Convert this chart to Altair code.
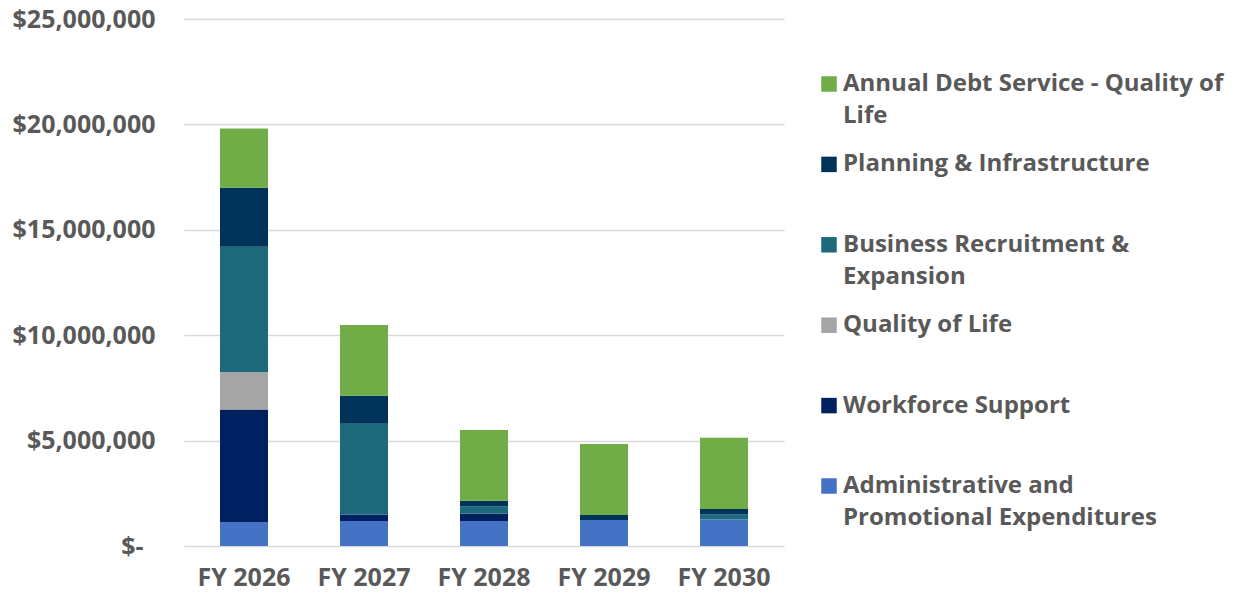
import altair as alt
import pandas as pd

years = ["FY 2026", "FY 2027", "FY 2028", "FY 2029", "FY 2030"]

series = [
    "Administrative and Promotional Expenditures",
    "Workforce Support",
    "Quality of Life",
    "Business Recruitment & Expansion",
    "Planning & Infrastructure",
    "Annual Debt Service - Quality of Life",
]

admin = [1140000, 1190000, 1190000, 1230000, 1260000]
workforce = [5340000, 310000, 340000, 0, 0]
quality = [1770000, 0, 0, 0, 0]
business = [5950000, 4300000, 350000, 0, 240000]
planning = [2800000, 1330000, 270000, 240000, 260000]
debt = [2810000, 3350000, 3350000, 3370000, 3380000]

colors = ["#4472C4", "#002060", "#A5A5A5", "#1D6A7C", "#003359", "#70AD47"]

legend_labels = [
    "Administrative and|Promotional Expenditures",
    "Workforce Support",
    "Quality of Life",
    "Business Recruitment &|Expansion",
    "Planning & Infrastructure",
    "Annual Debt Service - Quality of|Life",
]

y_ticks = [0, 5000000, 10000000, 15000000, 20000000, 25000000]

all_values = [admin, workforce, quality, business, planning, debt]
rows = []
for i, (s, vals) in enumerate(zip(series, all_values)):
    for yr, v in zip(years, vals):
        if v > 0:
            rows.append({"year": yr, "series": s, "value": v, "stack": i})
df = pd.DataFrame(rows)

legend_order = list(reversed(series))
leg_df = pd.DataFrame({"series": series, "label": legend_labels})

FONT = "Open Sans"
GREY = "#595959"
color_scale = alt.Scale(domain=series, range=colors)

bars = alt.Chart(df).mark_bar().encode(
    x=alt.X(
        "year:N", sort=years, title=None,
        scale=alt.Scale(paddingInner=0.6, paddingOuter=0.3),
        axis=alt.Axis(labelAngle=0, labelFont=FONT, labelFontSize=25, labelFontWeight="bold",
                      labelColor=GREY, labelPadding=19, ticks=False, domain=False, grid=False),
    ),
    y=alt.Y(
        "value:Q", stack="zero", title=None,
        scale=alt.Scale(domain=[0, 25000000], nice=False),
        axis=alt.Axis(values=y_ticks,
                      labelExpr="datum.value == 0 ? '$-' : '$' + format(datum.value, ',')",
                      labelFont=FONT, labelFontSize=25, labelFontWeight="bold", labelColor=GREY,
                      labelPadding={"condition": {"test": "datum.value == 0", "value": 41}, "value": 29},
                      ticks=False, domain=False, grid=True,
                      gridColor="#D9D9D9", gridWidth=1.5),
    ),
    color=alt.Color("series:N", scale=color_scale, legend=None),
    order=alt.Order("stack:Q", sort="ascending"),
)

leg_base = alt.Chart(leg_df).encode(
    y=alt.Y("series:N", sort=legend_order, axis=None, title=None,
            scale=alt.Scale(range=[65, 467], padding=0)),
)
leg_sq = leg_base.mark_square(size=240, opacity=1).encode(
    x=alt.value(645),
    color=alt.Color("series:N", scale=color_scale, legend=None),
)
leg_txt = leg_base.mark_text(
    align="left", baseline="top", dy=-12, font=FONT, fontSize=24, fontWeight="bold",
    color=GREY, lineBreak="|", lineHeight=32,
).encode(x=alt.value(659), text="label:N")

chart = alt.layer(bars, leg_sq + leg_txt).resolve_scale(y="independent").properties(
    width=600, height=527,
    autosize=alt.AutoSizeParams(type="none"),
    padding={"left": 184, "top": 19, "right": 454, "bottom": 46},
).configure_view(stroke=None)

chart.save("out.html", embed_options={"renderer": "svg", "actions": False})
